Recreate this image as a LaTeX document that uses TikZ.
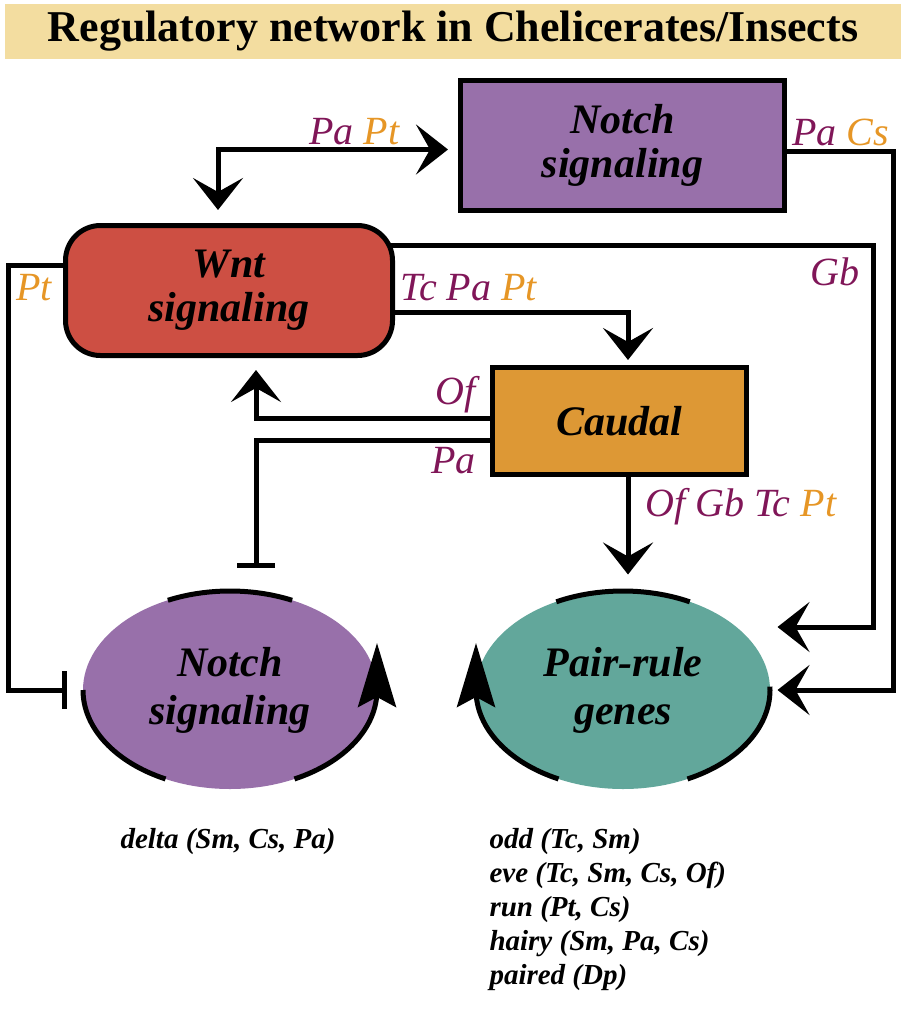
\documentclass[tikz,border=0pt]{standalone}
\usepackage{fontspec}
\setmainfont{Liberation Serif}
\usetikzlibrary{positioning}
\usetikzlibrary{arrows.meta}
\usetikzlibrary{shapes.geometric}
\definecolor{bandtan}{RGB}{243,221,160}
\definecolor{notchpurple}{RGB}{152,112,170}
\definecolor{wntred}{RGB}{205,79,67}
\definecolor{caudalorange}{RGB}{221,152,53}
\definecolor{pairteal}{RGB}{98,167,155}
\definecolor{labpurple}{RGB}{128,22,88}
\definecolor{laborange}{RGB}{230,150,38}
\newcommand{\amber}[1]{\textcolor{laborange}{#1}}
\tikzset{
    banner/.style={
        fill=bandtan,
        minimum width=896pt,
        minimum height=55pt,
        font=\fontsize{44}{44}\selectfont\bfseries},
    sigbox/.style={
        draw,
        align=center,
        font=\fontsize{42}{44}\selectfont\bfseries\itshape},
    sigblob/.style={
        ellipse,
        inner sep=0pt,
        minimum width=294pt,
        minimum height=198pt,
        align=center,
        font=\fontsize{42}{48}\selectfont\bfseries\itshape},
    lbl/.style={
        inner sep=0pt,
        text=labpurple,
        font=\fontsize{40}{44}\selectfont\itshape},
    gene/.style={
        inner sep=0pt,
        align=left,
        font=\fontsize{29}{34}\selectfont\bfseries\itshape},
    loopy/.style={
        -{Stealth[length=64pt,width=38pt,inset=10pt]}},
    blocked/.style={
        -{Bar[width=38pt]}}}

\begin{document}
\begin{tikzpicture}[x=1pt, y=-1pt, line width=5pt,
    >={Stealth[length=32pt,width=50pt,inset=14pt]}]
        \useasboundingbox (0,0) rectangle (901,1012);
        \node[banner] (title) at (453,31) {Regulatory network in Chelicerates/Insects};

        \node[sigbox, fill=notchpurple, minimum width=324pt, minimum height=130pt] (notchbox) at (622.5,145.5) {Notch\\signaling};
        \node[sigbox, fill=wntred, rounded corners=35pt, minimum width=327pt, minimum height=130pt] (wnt) at (229,290.5) {Wnt\\signaling};
        \node[sigbox, fill=caudalorange, minimum width=254pt, minimum height=107pt] (caudal) at (619.5,421) {Caudal};
        \node[sigblob, fill=notchpurple] (notchell) at (230,690) {Notch\\signaling};
        \node[sigblob, fill=pairteal] (pairell) at (623,690) {Pair-rule\\genes};

        \coordinate (ptrail) at (8,450);
        \coordinate (gbrail) at (873,450);
        \coordinate (csrail) at (893,450);

        \draw[<->, shorten <=13pt, shorten >=10pt] ([xshift=-11pt]wnt.north) |- ([yshift=-4pt]notchbox.west);
        \draw[->, shorten >=5pt] ([yshift=-6pt]notchbox.east) -| (csrail) |- (pairell.east);
        \draw[->, shorten >=5pt] ([xshift=-4pt,yshift=45pt]wnt.east) -| (gbrail) |- ([yshift=63pt]pairell.east);
        \draw[->, shorten >=5pt] ([yshift=-21.5pt]wnt.east) -| ([xshift=8.5pt]caudal.north);
        \draw[->, shorten >=12pt] ([yshift=3pt]caudal.west) -| ([xshift=27pt]wnt.south);
        \draw[blocked, shorten >=21pt] ([yshift=-19pt]caudal.west) -| ([xshift=26pt]notchell.north);
        \draw[->, shorten >=14pt] ([xshift=8.5pt]caudal.south) -- ([xshift=8.5pt]caudal.south |- pairell.north);
        \draw[blocked, shorten >=14pt] ([yshift=25pt]wnt.west) -| (ptrail) |- (notchell.west);

        \node[lbl, anchor=base east] (papt) at (402,144) {Pa \amber{Pt}};
        \node[lbl, anchor=base west] (pacs) at (790,145) {Pa \amber{Cs}};
        \node[lbl, anchor=base east] (gb) at (862,285) {Gb};
        \node[lbl, anchor=base west] (tcpapt) at (398,300) {Tc Pa \amber{Pt}};
        \node[lbl, anchor=base west, text=laborange] (pt) at (14,300) {Pt};
        \node[lbl, anchor=base east] (of) at (478,404) {Of};
        \node[lbl, anchor=base east] (pa) at (478,473) {Pa};
        \node[lbl, anchor=base west] (ofgbtcpt) at (643,516) {Of Gb Tc \amber{Pt}};

        % feedback rims round the two loops
        \draw (notchell.center) ++(65:147pt and 99pt) arc[start angle=65, end angle=115, x radius=147pt, y radius=99pt];
        \draw (notchell.center) ++(180:147pt and 99pt) arc[start angle=180, end angle=244, x radius=147pt, y radius=99pt];
        \draw[loopy] (notchell.center) ++(-64:147pt and 99pt) arc[start angle=-64, end angle=0, x radius=147pt, y radius=99pt] -- ++(0pt,47pt);
        \draw (pairell.center) ++(63:147pt and 99pt) arc[start angle=63, end angle=117, x radius=147pt, y radius=99pt];
        \draw[loopy] (pairell.center) ++(244:147pt and 99pt) arc[start angle=244, end angle=180, x radius=147pt, y radius=99pt] -- ++(0pt,47pt);
        \draw (pairell.center) ++(2:147pt and 99pt) arc[start angle=2, end angle=-64, x radius=147pt, y radius=99pt];

        \node[gene, anchor=base west] (deltagene) at (118,848) {delta (Sm, Cs, Pa)};
        \node[gene, anchor=north west] (prgenes) at (487,826) {odd (Tc, Sm)\\eve (Tc, Sm, Cs, Of)\\run (Pt, Cs)\\hairy (Sm, Pa, Cs)\\paired (Dp)};
    \end{tikzpicture}
\end{document}
